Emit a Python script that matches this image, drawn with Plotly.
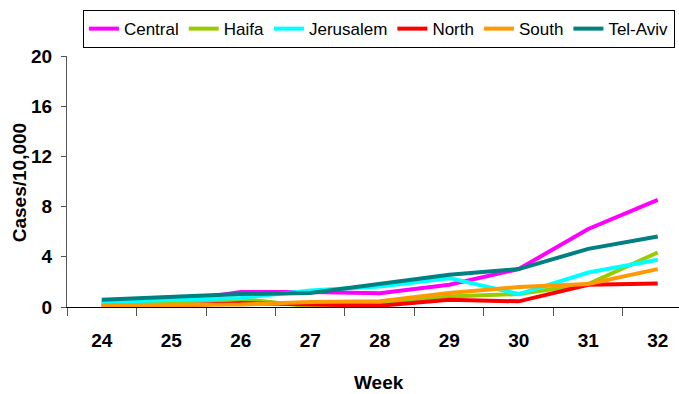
import plotly.graph_objects as go

# Weekly incidence per 10,000 by district
weeks = [24, 25, 26, 27, 28, 29, 30, 31, 32]
central = [0.30, 0.40, 1.19, 1.19, 1.10, 1.77, 3.02, 6.22, 8.53]
haifa = [0.20, 0.40, 0.64, 0.05, 0.32, 0.84, 1.03, 1.83, 4.34]
jerusalem = [0.40, 0.58, 0.72, 1.32, 1.64, 2.30, 1.03, 2.75, 3.76]
north = [0.05, 0.10, 0.32, 0.18, 0.10, 0.58, 0.45, 1.77, 1.88]
south = [0.13, 0.15, 0.20, 0.40, 0.45, 1.11, 1.59, 1.83, 3.02]
tel_aviv = [0.58, 0.77, 1.03, 1.11, 1.83, 2.57, 3.02, 4.63, 5.61]

series = [
    ("Central", central, "#FF00FF"),
    ("Haifa", haifa, "#99CC00"),
    ("Jerusalem", jerusalem, "#00FFFF"),
    ("North", north, "#FF0000"),
    ("South", south, "#FF9900"),
    ("Tel-Aviv", tel_aviv, "#008080"),
]
y_ticks = [0, 4, 8, 12, 16, 20]

fig = go.Figure()
for name, vals, color in series:
    fig.add_trace(go.Scatter(
        x=weeks, y=vals, name=name, mode="lines",
        line=dict(color=color, width=4),
    ))

sans = "Liberation Sans, Arial, sans-serif"
tick_font = dict(family=sans, size=19, color="black", weight="bold")

fig.update_layout(
    width=679, height=394,
    margin=dict(l=67, r=0, t=56, b=87),
    paper_bgcolor="white", plot_bgcolor="white",
    showlegend=True,
    legend=dict(
        orientation="h", x=0.026, xanchor="left", y=1.183, yanchor="top",
        bordercolor="black", borderwidth=1, bgcolor="white",
        font=dict(family=sans, size=17, color="black"),
    ),
    xaxis=dict(
        range=[23.5, 32.306], tickvals=weeks, ticktext=[str(w) for w in weeks],
        ticks="", showgrid=False, zeroline=False,
        showline=True, linecolor="black", linewidth=1,
        tickfont=tick_font, ticklabelstandoff=16,
        minor=dict(tick0=23.5, dtick=1, ticks="outside", ticklen=8,
                   tickcolor="#555555", tickwidth=1, showgrid=False),
    ),
    yaxis=dict(
        range=[0, 20], tickvals=y_ticks, ticktext=[str(v) for v in y_ticks],
        ticks="outside", ticklen=5, tickcolor="#555555",
        showgrid=False, zeroline=False,
        showline=True, linecolor="#555555", linewidth=1,
        tickfont=tick_font, ticklabelstandoff=5,
    ),
    annotations=[
        dict(text="Week", xref="paper", yref="paper", x=0.51, y=-0.299,
             xanchor="center", yanchor="middle", showarrow=False,
             font=dict(family=sans, size=19, color="black", weight="bold")),
        dict(text="Cases/10,000", xref="paper", yref="paper", x=-0.078, y=0.494,
             xanchor="center", yanchor="middle", textangle=-90, showarrow=False,
             font=dict(family=sans, size=19, color="black", weight="bold")),
    ],
)

fig.write_html("out.html")
